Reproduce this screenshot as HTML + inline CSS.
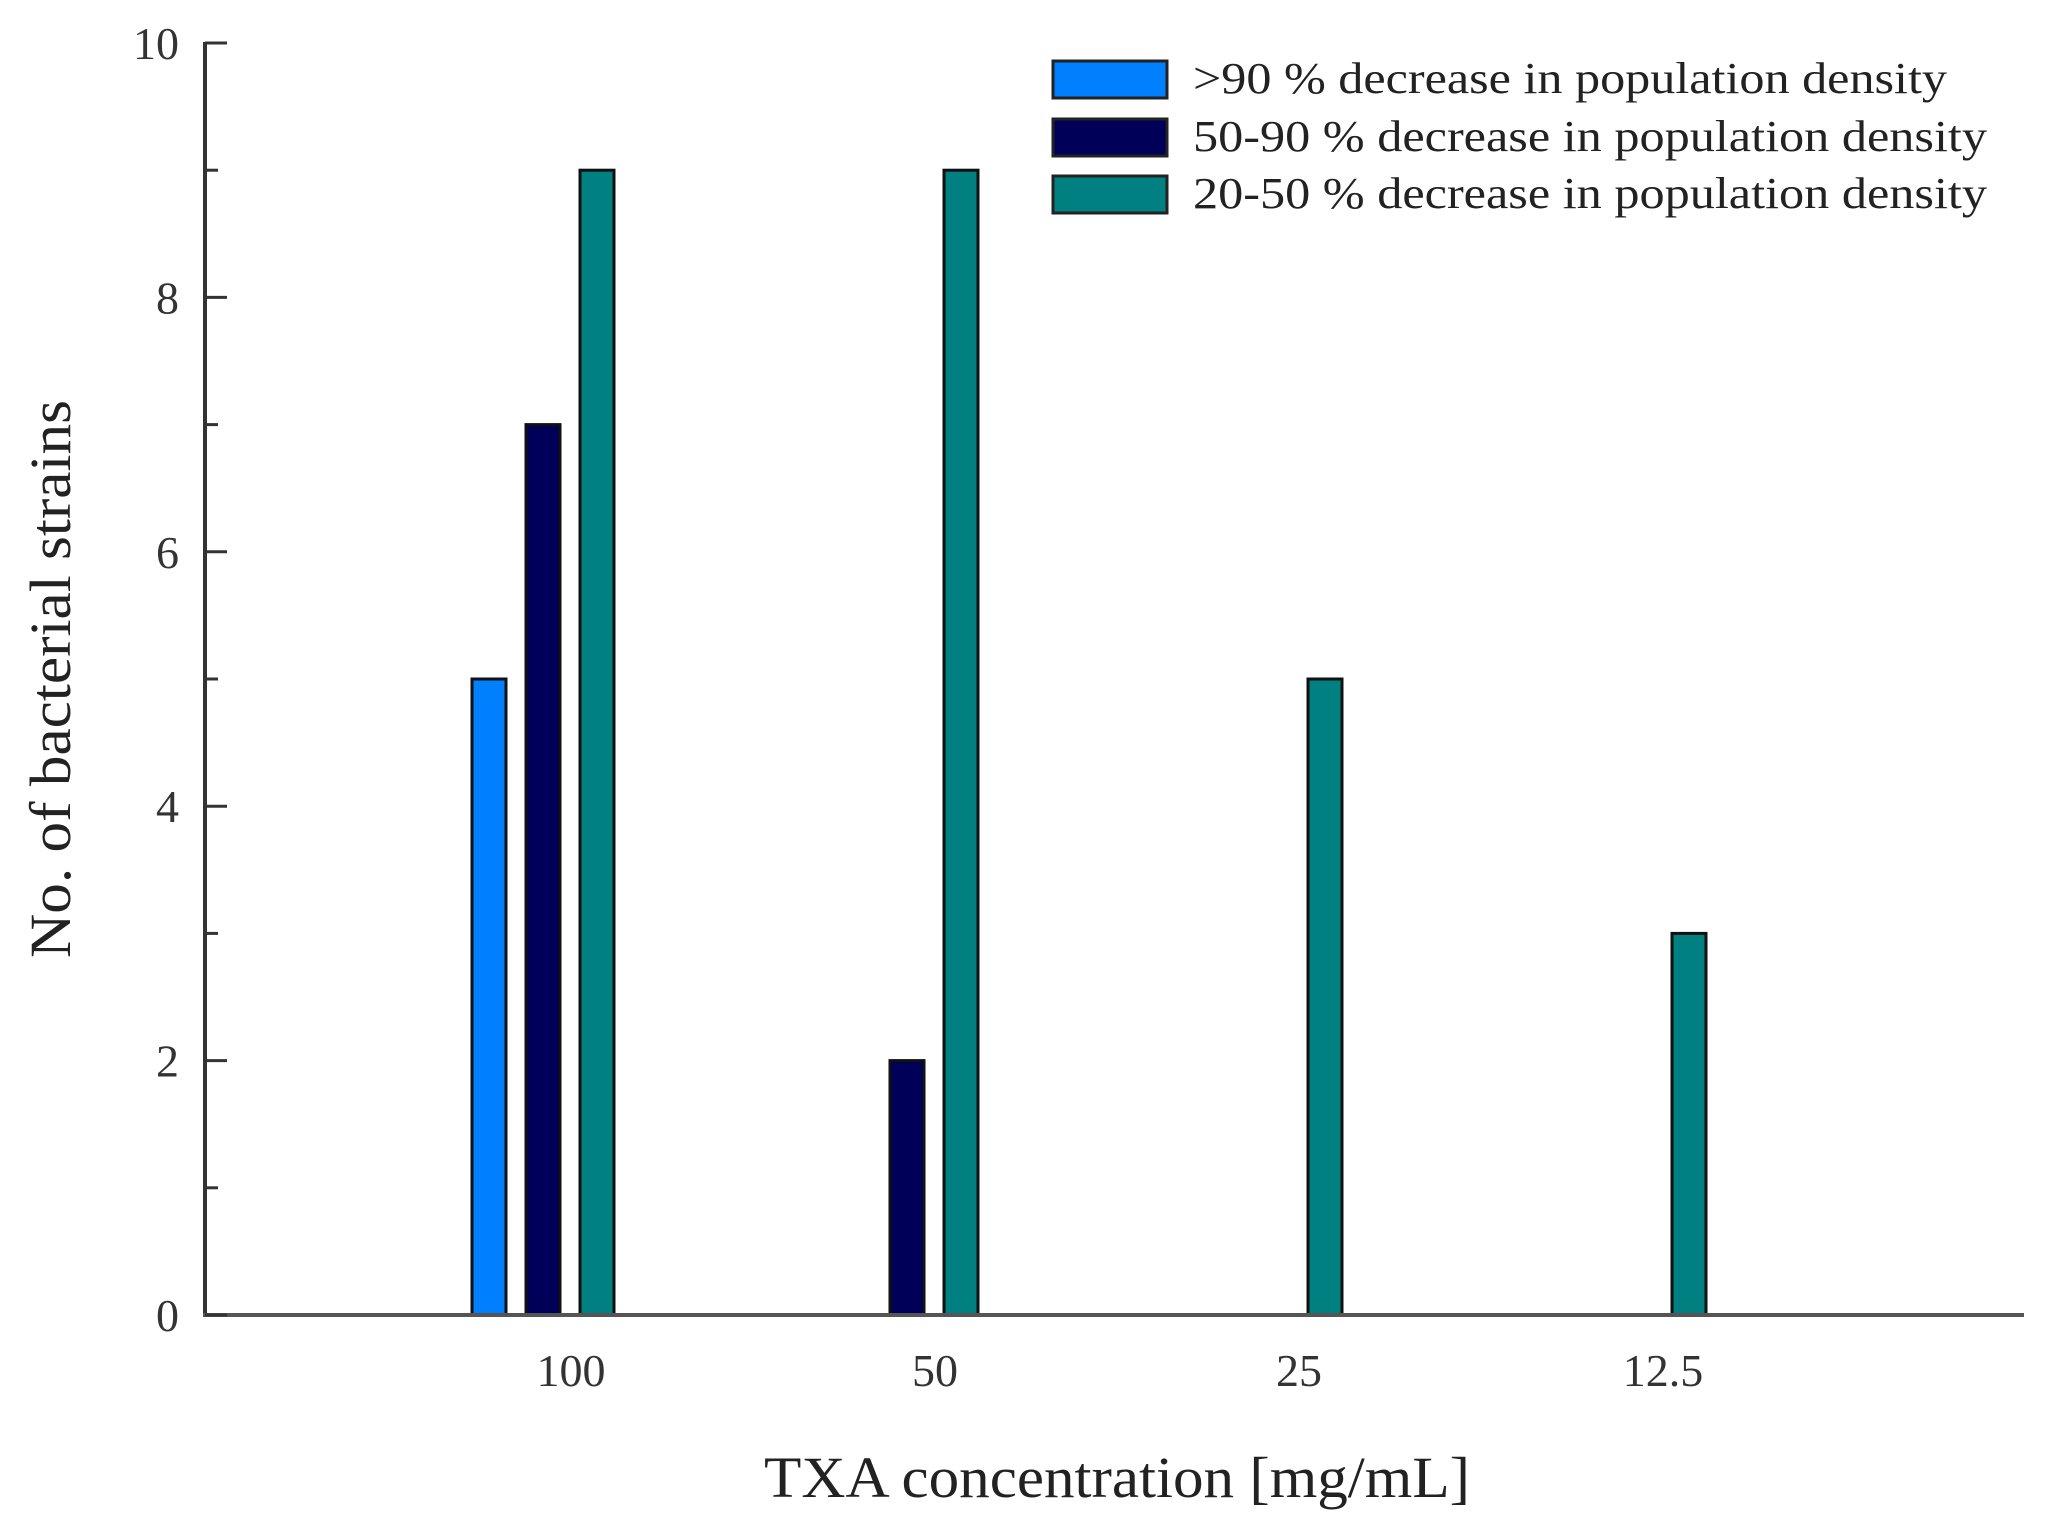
<!DOCTYPE html>
<html><head><meta charset="utf-8"><style>
html,body{margin:0;padding:0;background:#fff;}
svg{display:block;font-family:"Liberation Serif",serif;}
</style></head><body>
<svg id="chart" width="2047" height="1532" viewBox="0 0 2047 1532" xmlns="http://www.w3.org/2000/svg">
<g id="bars"></g>
<g id="axes"></g>
<text x="764" y="1497" font-size="58" textLength="706" lengthAdjust="spacingAndGlyphs" fill="#222">TXA concentration [mg/mL]</text>
<text transform="translate(70,958) rotate(-90)" x="0" y="0" font-size="58" textLength="558" lengthAdjust="spacingAndGlyphs" fill="#222">No. of bacterial strains</text>
<g id="legend"></g>
</svg>
<script>
const categories = ["100", "50", "25", "12.5"];
const seriesNames = [">90 % decrease in population density", "50-90 % decrease in population density", "20-50 % decrease in population density"];
const over90 = [5, 0, 0, 0];
const from50to90 = [7, 2, 0, 0];
const from20to50 = [9, 9, 5, 3];
const yTicks = [0, 2, 4, 6, 8, 10];

const NS = "http://www.w3.org/2000/svg";
const colors = ["#0080ff", "#000058", "#008080"];
const offsets = [-82, -28, 26];
const series = [over90, from50to90, from20to50];
const x0 = 205, xEnd = 2024, yBase = 1315, yTop = 43;
function yScale(v){ return yBase - (yBase - yTop) * v / 10; }
function xScale(i){ return 571 + i * 364; }
function mk(tag, attrs, parent){ const e = document.createElementNS(NS, tag); for (const k in attrs) e.setAttribute(k, attrs[k]); parent.appendChild(e); return e; }

const barsG = document.getElementById("bars");
series.forEach((vals, s) => {
  vals.forEach((v, i) => {
    if (v <= 0) return;
    const cx = xScale(i) + offsets[s];
    const r = mk("rect", {x: cx - 17, y: yScale(v), width: 34, height: yBase - yScale(v), fill: colors[s], stroke: "#111", "stroke-width": 3}, barsG);
    
    
  });
});

const axesG = document.getElementById("axes");
const yAxis = mk("line", {x1: x0, y1: yTop - 1, x2: x0, y2: yBase + 2, stroke: "#333", "stroke-width": 4}, axesG);


const xAxis = mk("line", {x1: x0 - 2, y1: yBase, x2: xEnd, y2: yBase, stroke: "#555", "stroke-width": 4}, axesG);


for (let v = 0; v <= 10; v++) {
  const major = v % 2 === 0;
  const t = mk("line", {x1: x0, y1: yScale(v), x2: x0 + (major ? 22 : 13), y2: yScale(v), stroke: "#333", "stroke-width": 3}, axesG);
  
  
}
yTicks.forEach(v => {
  const t = mk("text", {x: 179, y: yScale(v) + 16, "font-size": 46, "text-anchor": "end", fill: "#333"}, axesG);
  t.textContent = String(v);
  
  
});
categories.forEach((c, i) => {
  const t = mk("text", {x: xScale(i), y: 1386, "font-size": 46, "text-anchor": "middle", fill: "#333"}, axesG);
  t.textContent = c;
  
  
});

const legG = document.getElementById("legend");
const rowY = [61, 119, 176];
const textW = [754, 794, 794];
seriesNames.forEach((n, s) => {
  const r = mk("rect", {x: 1053, y: rowY[s], width: 114, height: 37, fill: colors[s], stroke: "#222", "stroke-width": 3}, legG);
  
  
  const t = mk("text", {x: 1193, y: rowY[s] + 32, "font-size": 44, textLength: textW[s], lengthAdjust: "spacingAndGlyphs", fill: "#222"}, legG);
  t.textContent = n;
  
  
});
</script>
</body></html>
